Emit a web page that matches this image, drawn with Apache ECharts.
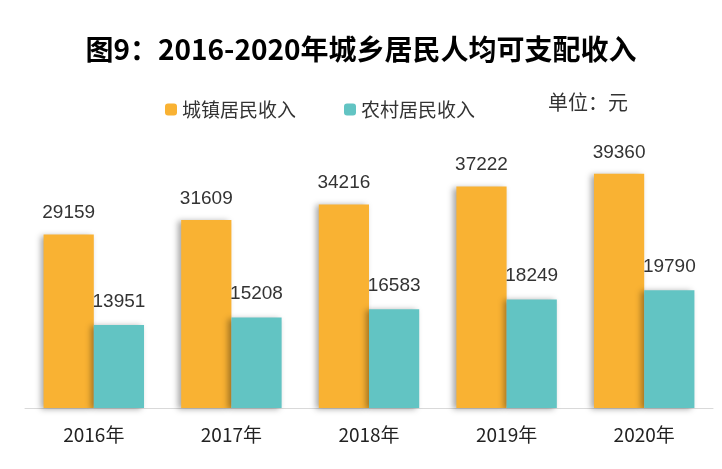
<!DOCTYPE html>
<html>
<head>
<meta charset="utf-8">
<script src="https://cdn.jsdelivr.net/npm/echarts@6/dist/echarts.min.js"></script>
<style>html,body{margin:0;padding:0;background:#fff}#main{width:722px;height:469px}</style>
</head>
<body>
<div id="main"></div>
<script>
var years = ['2016年', '2017年', '2018年', '2019年', '2020年'];
var urban = [29159, 31609, 34216, 37222, 39360];
var rural = [13951, 15208, 16583, 18249, 19790];

var myChart = echarts.init(document.getElementById('main'));
var font = '"Microsoft YaHei","Noto Sans CJK SC",sans-serif';
var barShadow = { shadowColor: 'rgba(0,0,0,0.35)', shadowBlur: 6, shadowOffsetX: -3, shadowOffsetY: 1 };

var option = {
  animation: false,
  title: {
    text: '图9：2016-2020年城乡居民人均可支配收入',
    left: 'center',
    top: 30,
    textStyle: { fontSize: 28, fontWeight: 'bold', color: '#000', fontFamily: font }
  },
  legend: {
    data: ['城镇居民收入', '农村居民收入'],
    left: 160,
    top: 95,
    itemWidth: 12,
    itemHeight: 12,
    itemGap: 48,
    textStyle: { fontSize: 19, color: '#333', fontFamily: font }
  },
  graphic: [{
    type: 'text', left: 548, top: 92,
    style: { text: '单位：元', fontSize: 20, fill: '#333', fontFamily: font }
  }],
  grid: { left: 25, right: 9, top: 170, bottom: 61 },
  xAxis: {
    type: 'category',
    data: years,
    axisTick: { show: false },
    axisLine: { lineStyle: { color: '#d9d9d9' } },
    axisLabel: { fontSize: 19, color: '#222', margin: 17, fontFamily: font }
  },
  yAxis: { type: 'value', min: 0, max: 40000, show: false },
  series: [
    {
      name: '城镇居民收入', type: 'bar', data: urban, barGap: 0, barCategoryGap: '27%',
      itemStyle: Object.assign({ color: '#F9B233' }, barShadow),
      label: { show: true, position: 'top', distance: 12, fontSize: 19, color: '#333', fontFamily: 'Arial, Liberation Sans, sans-serif' }
    },
    {
      name: '农村居民收入', type: 'bar', data: rural,
      itemStyle: Object.assign({ color: '#62C4C3' }, barShadow),
      label: { show: true, position: 'top', distance: 14, fontSize: 19, color: '#333', fontFamily: 'Arial, Liberation Sans, sans-serif' }
    }
  ]
};
myChart.setOption(option);
</script>
</body>
</html>
